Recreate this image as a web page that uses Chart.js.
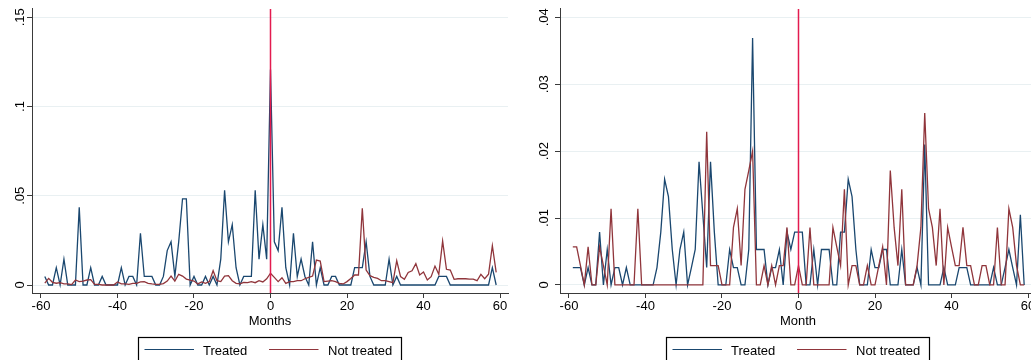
<!DOCTYPE html>
<html>
<head>
<meta charset="utf-8">
<title>Monthly share, treated vs not treated</title>
<script src="https://cdn.jsdelivr.net/npm/chart.js@4.4.1/dist/chart.umd.min.js"></script>
<style>
  html, body { margin: 0; padding: 0; background: #fff; width: 1031px; height: 360px; overflow: hidden; }
  .panel { position: absolute; top: 0; width: 520px; height: 360px; }
  #panelLeft { left: 0; }
  #panelRight { left: 528px; }
</style>
</head>
<body>
<div class="panel" id="panelLeft"><canvas id="chartLeft" width="520" height="360"></canvas></div>
<div class="panel" id="panelRight"><canvas id="chartRight" width="520" height="360"></canvas></div>
<script>
// Months relative to treatment
const months = [
  -59, -58, -57, -56, -55, -54, -53, -52, -51, -50,
  -49, -48, -47, -46, -45, -44, -43, -42, -41, -40,
  -39, -38, -37, -36, -35, -34, -33, -32, -31, -30,
  -29, -28, -27, -26, -25, -24, -23, -22, -21, -20,
  -19, -18, -17, -16, -15, -14, -13, -12, -11, -10,
   -9,  -8,  -7,  -6,  -5,  -4,  -3,  -2,  -1,   0,
    1,   2,   3,   4,   5,   6,   7,   8,   9,  10,
   11,  12,  13,  14,  15,  16,  17,  18,  19,  20,
   21,  22,  23,  24,  25,  26,  27,  28,  29,  30,
   31,  32,  33,  34,  35,  36,  37,  38,  39,  40,
   41,  42,  43,  44,  45,  46,  47,  48,  49,  50,
   51,  52,  53,  54,  55,  56,  57,  58,  59
];

const seriesLabels = ['Treated', 'Not treated'];
const xTickValues = [-60, -40, -20, 0, 20, 40, 60];
const leftYTicks = [0, 0.05, 0.1, 0.15];
const rightYTicks = [0, 0.01, 0.02, 0.03, 0.04];
const eventMonth = 0;

// Left panel (Months)
const leftTreated = [
  0.0048, 0, 0, 0.0097, 0, 0.0145, 0, 0, 0, 0.0435,
  0, 0, 0.0097, 0, 0, 0.0048, 0, 0, 0, 0,
  0.0097, 0, 0.0048, 0.0048, 0, 0.029, 0.0048, 0.0048, 0.0048, 0,
  0, 0.0048, 0.0193, 0.0242, 0.0048, 0.0242, 0.0483, 0.0483, 0, 0.0048,
  0, 0, 0.0048, 0, 0.0048, 0, 0.0145, 0.0531, 0.0242, 0.0338,
  0.0097, 0, 0.0048, 0.0048, 0.0048, 0.0531, 0.0145, 0.0338, 0.0145, 0.1208,
  0.0242, 0.0193, 0.0435, 0.0097, 0, 0.029, 0.0048, 0.0145, 0.0048, 0,
  0.0242, 0, 0.0097, 0, 0, 0.0048, 0.0048, 0, 0, 0,
  0, 0.0097, 0.0097, 0.0097, 0.0242, 0.0048, 0, 0, 0, 0,
  0.0145, 0, 0.0048, 0, 0, 0, 0, 0, 0, 0,
  0, 0, 0, 0.0048, 0.0048, 0.0048, 0, 0, 0, 0,
  0, 0, 0, 0, 0, 0, 0, 0.0097, 0
];
const leftNotTreated = [
  0.001, 0.0037, 0.0015, 0.001, 0.0013, 0.0006, 0.0006, 0.0002, 0.0028, 0.0019,
  0.0022, 0.0028, 0.003, 0.0004, 0.0004, 0, 0, 0, 0, 0.0017,
  0.0006, 0.0006, 0.0004, 0.0009, 0.0009, 0.0017, 0.0019, 0.0009, 0.0006, 0.0004,
  0.0004, 0.0008, 0.0022, 0.005, 0.0022, 0.006, 0.005, 0.0033, 0.0028, 0.0022,
  0.0006, 0.0017, 0.0009, 0.0019, 0.008, 0.0024, 0.0019, 0.005, 0.0052, 0.0024,
  0.0009, 0.0006, 0.0015, 0.0013, 0.0019, 0.0013, 0.0024, 0.0017, 0.0035, 0.0066,
  0.0043, 0.0019, 0.0041, 0.0009, 0.0019, 0.0019, 0.0024, 0.0024, 0.0035, 0.0043,
  0.005, 0.014, 0.0134, 0.0019, 0.0022, 0.0024, 0.0019, 0.0009, 0.0006, 0.0019,
  0.0037, 0.0056, 0.0056, 0.043, 0.0084, 0.0052, 0.0043, 0.0037, 0.0024, 0.0024,
  0.0019, 0.0013, 0.0136, 0.0047, 0.0032, 0.007, 0.008, 0.012, 0.0056, 0.0073,
  0.0028, 0.0047, 0.0106, 0.006, 0.0246, 0.0088, 0.0084, 0.0032, 0.0035, 0.0035,
  0.0035, 0.0033, 0.0033, 0.0024, 0.006, 0.0035, 0.006, 0.022, 0.0071
];

// Right panel (Month)
const rightTreated = [
  0.0026, 0.0026, 0.0026, 0, 0.0026, 0, 0, 0.0079, 0, 0.0053,
  0, 0.0026, 0.0026, 0, 0.0026, 0, 0, 0, 0, 0,
  0, 0, 0.0026, 0.0079, 0.0158, 0.0132, 0.0053, 0, 0.0053, 0.0079,
  0, 0.0026, 0.0053, 0.0184, 0.0105, 0.0026, 0.0184, 0.0079, 0, 0,
  0, 0.0053, 0.0026, 0.0026, 0, 0, 0.0053, 0.0369, 0.0053, 0.0053,
  0.0053, 0, 0.0026, 0.0026, 0.0053, 0, 0.0079, 0.0053, 0.0079, 0.0079,
  0.0079, 0, 0, 0.0053, 0, 0.0053, 0.0053, 0.0053, 0, 0,
  0.0079, 0.0079, 0.0158, 0.0132, 0.0053, 0, 0, 0, 0.0053, 0.0026,
  0.0026, 0.0053, 0.0053, 0, 0, 0, 0.0053, 0, 0, 0,
  0.0026, 0, 0.021, 0, 0, 0, 0, 0.0026, 0, 0,
  0, 0.0026, 0.0026, 0.0026, 0, 0, 0, 0, 0, 0,
  0.0026, 0, 0, 0.0026, 0.0053, 0.0026, 0, 0.0105, 0
];
const rightNotTreated = [
  0.0057, 0.0057, 0.0029, 0, 0.0057, 0, 0, 0.0057, 0.0029, 0,
  0.0114, 0, 0, 0, 0, 0, 0, 0.0114, 0, 0,
  0, 0, 0, 0, 0, 0, 0, 0, 0, 0,
  0, 0, 0, 0, 0, 0.0229, 0.0029, 0.0029, 0.0029, 0,
  0, 0, 0.0086, 0.0114, 0.0029, 0.0143, 0.0171, 0.02, 0, 0,
  0.0029, 0, 0.0029, 0, 0.0029, 0.0029, 0.0086, 0, 0, 0.0029,
  0, 0, 0.0086, 0, 0, 0, 0, 0, 0.0086, 0.0057,
  0.0029, 0.0143, 0, 0.0029, 0.0029, 0, 0, 0.0029, 0, 0,
  0.0029, 0.0057, 0, 0.0171, 0.0086, 0.0029, 0.0143, 0, 0, 0,
  0.0029, 0.0086, 0.0257, 0.0114, 0.0086, 0.0029, 0.0114, 0, 0.0086, 0.0057,
  0.0029, 0.0029, 0.0086, 0.0029, 0.0029, 0, 0, 0.0029, 0.0029, 0,
  0, 0.0086, 0, 0, 0.0114, 0.0086, 0.0029, 0, 0
];

const treatedColor = '#1a476f';
const notTreatedColor = '#90353b';
const eventColor = '#e31b4f';
const axisColor = '#3a3a3a';
const gridColor = '#e9f0f2';
const fontFamily = "'Liberation Sans', Arial, Helvetica, sans-serif";

Chart.defaults.font.family = fontFamily;
Chart.defaults.font.size = 13;
Chart.defaults.color = '#000';

// "0", ".01", ".05", ".1" style axis labels
function shortDecimal(v) {
  if (Math.abs(v) < 1e-12) return '0';
  return String(+v.toFixed(4)).replace(/^(-?)0\./, '$1.');
}

// Vertical reference line at the treatment month
const eventLine = {
  id: 'eventLine',
  afterDatasetsDraw(chart, args, opts) {
    const { ctx, chartArea, scales } = chart;
    const x = scales.x.getPixelForValue(opts.value);
    ctx.save();
    ctx.strokeStyle = opts.color;
    ctx.lineWidth = opts.width;
    ctx.beginPath();
    ctx.moveTo(x, chartArea.top + 1);
    ctx.lineTo(x, chartArea.bottom);
    ctx.stroke();
    ctx.restore();
  }
};

// Framed legend under the axis title
const framedLegend = {
  id: 'framedLegend',
  afterDraw(chart) {
    const { ctx, chartArea } = chart;
    const cx = Math.round((chartArea.left + chartArea.right) / 2);
    const top = 337.5;
    const rowY = 349.5;
    const sampleLeft = [-125.5, -1];
    const textLeft = [-67, 58];
    ctx.save();
    ctx.strokeStyle = '#000';
    ctx.lineWidth = 1.2;
    ctx.strokeRect(cx - 131.5, top, 263, 40);
    chart.data.datasets.forEach((ds, i) => {
      ctx.strokeStyle = ds.borderColor;
      ctx.lineWidth = 1.2;
      ctx.beginPath();
      ctx.moveTo(cx + sampleLeft[i], rowY);
      ctx.lineTo(cx + sampleLeft[i] + 49.5, rowY);
      ctx.stroke();
      ctx.fillStyle = '#000';
      ctx.font = '13px ' + fontFamily;
      ctx.textAlign = 'left';
      ctx.textBaseline = 'alphabetic';
      ctx.fillText(ds.label, cx + textLeft[i], 354.5);
    });
    ctx.restore();
  }
};

function toPoints(values) {
  return months.map((m, i) => ({ x: m, y: values[i] }));
}

function makePanel(canvasId, treated, notTreated, yTicks, yMin, yMax, xTitle, yLabelPad) {
  return new Chart(document.getElementById(canvasId), {
    type: 'line',
    data: {
      datasets: [
        { label: seriesLabels[0], data: toPoints(treated), borderColor: treatedColor, order: 1 },
        { label: seriesLabels[1], data: toPoints(notTreated), borderColor: notTreatedColor, order: 0 }
      ]
    },
    options: {
      responsive: false,
      animation: false,
      devicePixelRatio: 1,
      layout: { padding: { left: 0, top: 8, right: 12, bottom: 0 } },
      elements: {
        point: { radius: 0 },
        line: { borderWidth: 1.3, tension: 0, fill: false }
      },
      plugins: {
        legend: { display: false },
        tooltip: { enabled: false },
        eventLine: { value: eventMonth, color: eventColor, width: 1.5 }
      },
      scales: {
        x: {
          type: 'linear',
          min: -62.35,
          max: 62.09,
          afterBuildTicks: s => { s.ticks = xTickValues.map(v => ({ value: v })); },
          afterFit: s => { s.height = 67; s.paddingLeft = 0; s.paddingRight = 0; },
          ticks: { autoSkip: false, maxRotation: 0, minRotation: 0, padding: 1, color: '#000' },
          grid: { display: true, drawOnChartArea: false, drawTicks: true, tickLength: 5, tickColor: axisColor, tickWidth: 1 },
          border: { display: true, color: axisColor, width: 1 },
          title: { display: true, text: xTitle, color: '#000', padding: { top: 0, bottom: 30.5 } }
        },
        y: {
          type: 'linear',
          min: yMin,
          max: yMax,
          afterBuildTicks: s => { s.ticks = yTicks.map(v => ({ value: v })); },
          afterFit: s => { s.width = 32; s.paddingTop = 0; s.paddingBottom = 0; },
          ticks: {
            minRotation: 90, maxRotation: 90, crossAlign: 'center', padding: yLabelPad,
            color: '#000', callback: v => shortDecimal(v)
          },
          grid: { color: gridColor, lineWidth: 1, drawTicks: true, tickLength: 5, tickColor: axisColor, tickWidth: 1 },
          border: { display: true, color: axisColor, width: 1 }
        }
      }
    },
    plugins: [eventLine, framedLegend]
  });
}

makePanel('chartLeft', leftTreated, leftNotTreated, leftYTicks, -0.00448, 0.1552, 'Months', -2);
makePanel('chartRight', rightTreated, rightNotTreated, rightYTicks, -0.0012, 0.04139, 'Month', 2);
</script>
</body>
</html>
